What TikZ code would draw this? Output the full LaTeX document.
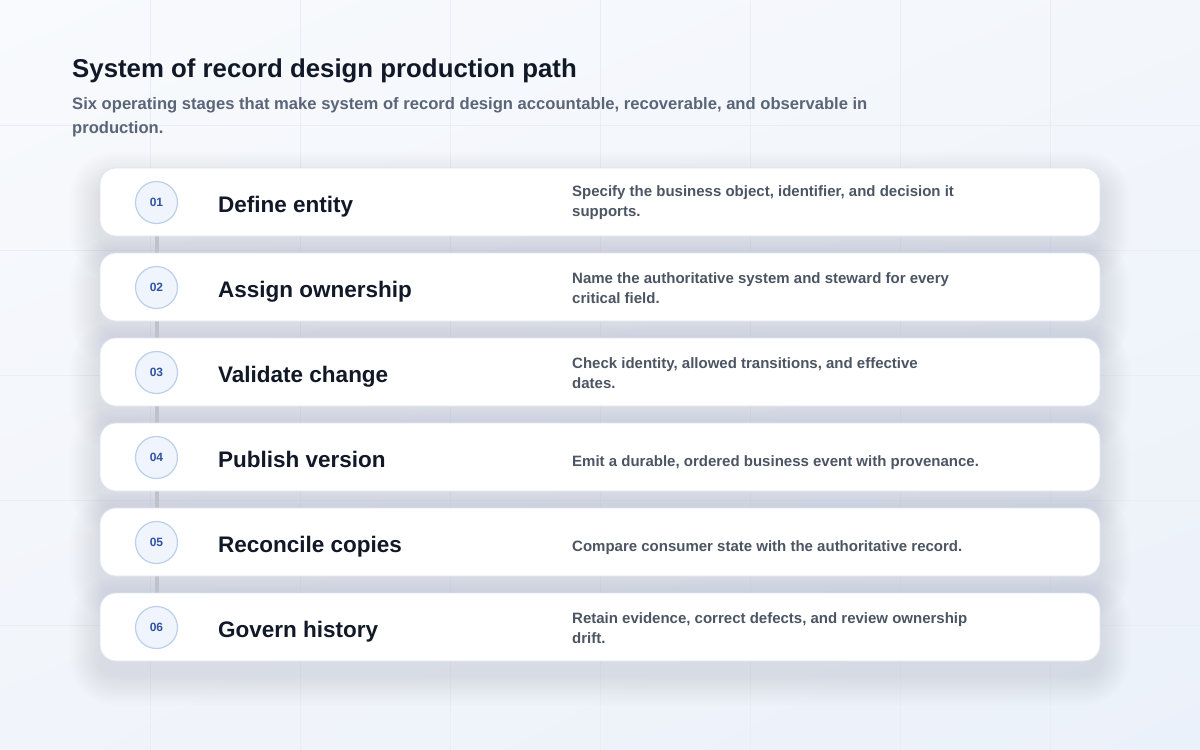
\documentclass[tikz,border=0pt]{standalone}
\usepackage{fontspec}
\setmainfont{Liberation Sans}
\usetikzlibrary{calc,shadings}
\definecolor{bgTL}{HTML}{F8FAFD}
\definecolor{bgTR}{HTML}{F3F6FB}
\definecolor{bgBL}{HTML}{F1F4FA}
\definecolor{bgBR}{HTML}{EBF1FA}
\definecolor{gridc}{HTML}{E9EEF5}
\definecolor{ink}{HTML}{111827}
\definecolor{subc}{HTML}{5B6578}
\definecolor{descc}{HTML}{4B5563}
\definecolor{numtext}{HTML}{3153A3}
\definecolor{numfill}{HTML}{EFF4FD}
\definecolor{numline}{HTML}{BCCFEB}
\definecolor{cardline}{HTML}{DFE5EE}
\definecolor{connc}{HTML}{BDC2CB}
\definecolor{shadowc}{HTML}{4B5568}
\pgfdeclarelayer{shadowlayer}
\pgfdeclarelayer{connlayer}
\pgfsetlayers{shadowlayer,connlayer,main}
\begin{document}
\begin{tikzpicture}[x=1pt,y=-1pt,
  card/.style={draw=cardline, line width=0.8pt, fill=white, rounded corners=16pt,
    minimum width=1000pt, minimum height=68pt, inner sep=0pt},
  numc/.style={circle, draw=numline, line width=1.2pt, fill=numfill, minimum size=42pt,
    inner sep=0pt, font=\fontsize{12}{12}\selectfont\bfseries, text=numtext},
  stitle/.style={anchor=west, inner sep=0pt, text height=16.1pt, text depth=0pt,
    font=\fontsize{22.5}{26}\selectfont\bfseries, text=ink},
  sdesc/.style={anchor=west, inner sep=0pt, align=left,
    font=\fontsize{15}{20}\selectfont\bfseries, text=descc},
  conn/.style={draw=connc, line width=4pt},
  gridline/.style={draw=gridc, line width=0.8pt}]
\useasboundingbox (0,0) rectangle (1200,750);
\begin{pgfonlayer}{shadowlayer}
\shade[upper left=bgTL, upper right=bgTR, lower left=bgBL, lower right=bgBR] (0,0) rectangle (1200,750);
\foreach \gx in {150,300,...,1050} \draw[gridline] (\gx,0) -- (\gx,750);
\foreach \gy in {125,250,...,625} \draw[gridline] (0,\gy) -- (1200,\gy);
\end{pgfonlayer}

\node[anchor=base west, inner sep=0pt, font=\fontsize{25.8}{30}\selectfont\bfseries, text=ink] (title) at (72,77) {System of record design production path};
\node[anchor=west, inner sep=0pt, align=left, font=\fontsize{16.6}{24}\selectfont\bfseries, text=subc] (subtitle) at (72,117)
  {Six operating stages that make system of record design accountable, recoverable, and observable in\\production.};

\foreach \i/\ttl/\dsc/\dy in {
  1/Define entity/{Specify the business object, identifier, and decision it\\supports.}/35,
  2/Assign ownership/{Name the authoritative system and steward for every\\critical field.}/35,
  3/Validate change/{Check identity, allowed transitions, and effective\\dates.}/35,
  4/Publish version/{Emit a durable, ordered business event with provenance.}/40,
  5/Reconcile copies/{Compare consumer state with the authoritative record.}/40,
  6/Govern history/{Retain evidence, correct defects, and review ownership\\drift.}/35}{
  \pgfmathsetmacro\ctop{168+(\i-1)*85}
  \begin{pgfonlayer}{shadowlayer}
    \foreach \k in {1,...,12}{
      \pgfmathsetmacro\sp{\k*2.5}
      \pgfmathsetmacro\rr{16+\k*2.5}
      \fill[shadowc, opacity=0.0068, rounded corners=\rr pt]
        (100-\sp,\ctop+14-\sp) rectangle (1100+\sp,\ctop+68+14+\sp);
    }
  \end{pgfonlayer}
  \node[card] (card\i) at (600,\ctop+34) {};
  \node[numc] (num\i) at (156.5,\ctop+34.5) {0\i};
  \node[stitle] (ttl\i) at (218,\ctop+36.5) {\ttl};
  \node[sdesc] (dsc\i) at (572,\ctop+\dy) {\dsc};
}

\begin{pgfonlayer}{connlayer}
\foreach \i [evaluate=\i as \j using int(\i+1)] in {1,...,5}
  \draw[conn] (num\i.south) -- (num\j.north);
\end{pgfonlayer}
\end{tikzpicture}
\end{document}
